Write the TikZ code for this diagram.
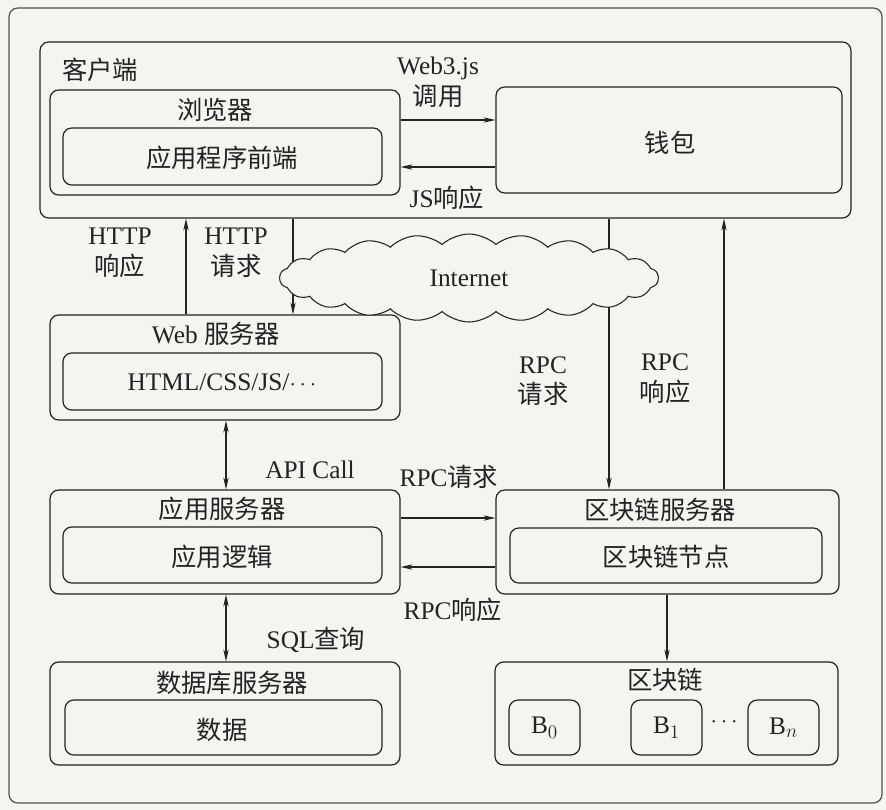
\documentclass[tikz,border=0pt]{standalone}
\usepackage{fontspec}
\setmainfont{Liberation Serif}
\newfontfamily\cjk{Noto Sans CJK SC}
\usetikzlibrary{shapes.symbols,arrows.meta,fit}
\definecolor{paper}{RGB}{246,244,240}
\definecolor{ink}{RGB}{35,35,35}

\begin{document}
\begin{tikzpicture}[x=0.75pt,y=-0.75pt,
  box/.style={draw=ink, line width=0.9pt, rounded corners=6.5pt, inner sep=0pt},
  lbl/.style={text=ink, font=\fontsize{19}{23}\selectfont, inner sep=0pt, align=center},
  tip/.tip={Stealth[length=9pt,width=4pt]},
  arr/.style={draw=ink, line width=0.8pt, -tip},
  dbl/.style={draw=ink, line width=0.8pt, tip-tip},
]
% paper
\fill[paper] (0,0) rectangle (886,810);
\useasboundingbox (0,0) rectangle (886,810);

% containers
\node[box, draw=ink!80, fit={(9,8) (882,803)}] (outer) {};
\node[box, fit={(40,42) (851,218)}] (client) {};
\node[box, fit={(50,90) (400,195)}] (browser) {};
\node[box, fit={(63,128) (382,185)}] (frontend) {};
\node[box, fit={(496,87) (842,193)}] (wallet) {};
\node[box, fit={(50,315) (400,420)}] (web) {};
\node[box, fit={(63,353) (382,410)}] (webin) {};
\node[box, fit={(50,490) (400,594)}] (app) {};
\node[box, fit={(63,527) (382,583)}] (appin) {};
\node[box, fit={(496,490) (839,594)}] (bcs) {};
\node[box, fit={(510,528) (822,583)}] (bcsin) {};
\node[box, fit={(50,662) (400,765)}] (db) {};
\node[box, fit={(65,700) (382,755)}] (dbin) {};
\node[box, fit={(495,662) (838,765)}] (chain) {};
\node[box, rounded corners=7pt, fit={(509,700) (580,755)}] (b0) {};
\node[box, rounded corners=7pt, fit={(631,700) (702,755)}] (b1) {};
\node[box, rounded corners=7pt, fit={(748,700) (819,755)}] (bn) {};

% texts in boxes
\node[lbl] (tclient) at (100,70) {\cjk 客户端};
\node[lbl] (tbrowser) at (215,110) {\cjk 浏览器};
\node[lbl] (tfront) at (222,158) {\cjk 应用程序前端};
\node[lbl] (twallet) at (670,143) {\cjk 钱包};
\node[lbl] (tweb) at (216,334) {Web {\cjk 服务器}};
\node[lbl] (twebin) at (222,382) {HTML/CSS/JS/$\cdots$};
\node[lbl] (tapp) at (222,509) {\cjk 应用服务器};
\node[lbl] (tappin) at (222,557) {\cjk 应用逻辑};
\node[lbl] (tbcs) at (660,510) {\cjk 区块链服务器};
\node[lbl] (tbcsin) at (666,557) {\cjk 区块链节点};
\node[lbl] (tdb) at (232,683) {\cjk 数据库服务器};
\node[lbl] (tdbin) at (222,730) {\cjk 数据};
\node[lbl] (tchain) at (665,680) {\cjk 区块链};
\node[lbl] (tb0) at (b0) {B$_0$};
\node[lbl] (tb1) at (b1) {B$_1$};
\node[lbl] (tbn) at (bn) {B$_n$};
\node[lbl] (tdots) at (724,722) {$\cdots$};

% connectors
\draw[arr] (browser.east |- 0,120) -- (wallet.west |- 0,120);
\draw[arr] (wallet.west |- 0,167) -- (browser.east |- 0,167);
\draw[arr] (web.north -| 186,0) -- (client.south -| 186,0);
\draw[arr] (client.south -| 293,0) -- (web.north -| 293,0);
\draw[arr] (client.south -| 609,0) -- (bcs.north -| 609,0);
\draw[arr] (bcs.north -| 724,0) -- (client.south -| 724,0);
\draw[dbl] (web.south -| 226,0) -- (app.north -| 226,0);
\draw[arr] (app.east |- 0,518) -- (bcs.west |- 0,518);
\draw[arr] (bcs.west |- 0,567) -- (app.east |- 0,567);
\draw[dbl] (app.south -| 226,0) -- (db.north -| 226,0);
\draw[arr] (bcs.south -| 667,0) -- (chain.north -| 667,0);

% network cloud over the crossing lines
\node[cloud, cloud puffs=22, cloud puff arc=85, aspect=4.2, draw=ink, line width=0.8pt,
      fill=paper, minimum width=284pt, minimum height=66pt, inner sep=0pt,
      text=ink, font=\fontsize{19}{23}\selectfont] (net) at (469,278) {Internet};

% connector labels
\node[lbl] (lw3) at (438,82) {Web3.js\\{\cjk 调用}};
\node[lbl] (ljs) at (447,198) {JS{\cjk 响应}};
\node[lbl] (lhr) at (120,253) {HTTP\\{\cjk 响应}};
\node[lbl] (lhq) at (236,253) {HTTP\\{\cjk 请求}};
\node[lbl] (lrq) at (543,381) {RPC\\{\cjk 请求}};
\node[lbl] (lrr) at (665,379) {RPC\\{\cjk 响应}};
\node[lbl] (lapi) at (310,470) {API Call};
\node[lbl] (lrq2) at (449,477) {RPC{\cjk 请求}};
\node[lbl] (lrr2) at (453,610) {RPC{\cjk 响应}};
\node[lbl] (lsql) at (316,640) {SQL{\cjk 查询}};
\end{tikzpicture}
\end{document}
